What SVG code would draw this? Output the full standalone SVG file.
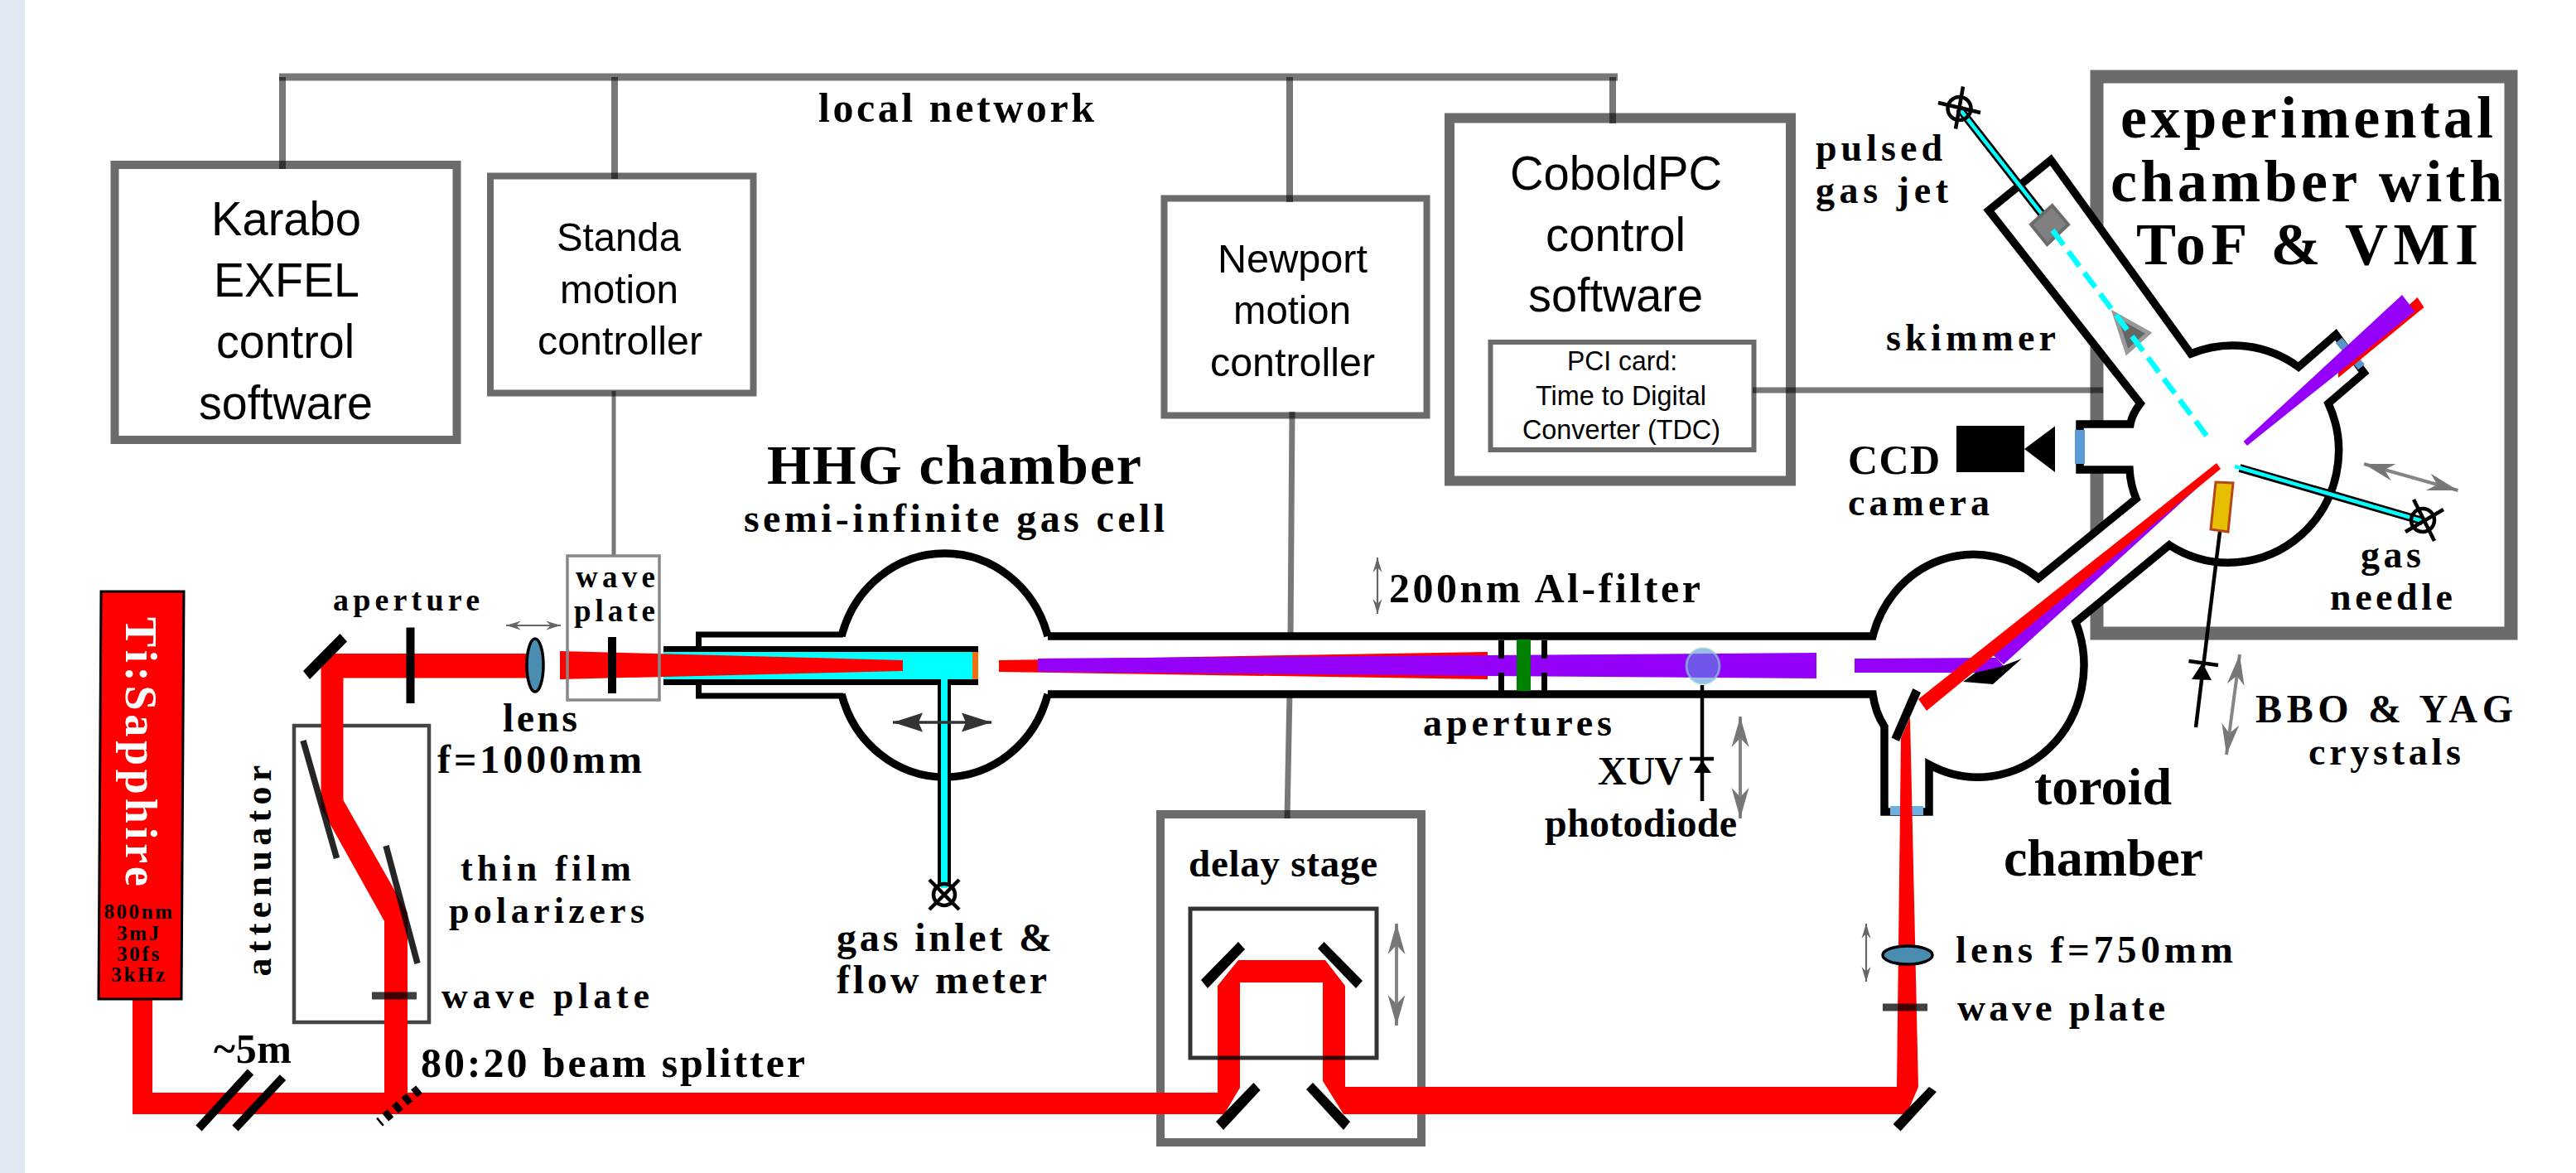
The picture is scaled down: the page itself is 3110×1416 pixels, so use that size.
<svg xmlns="http://www.w3.org/2000/svg" width="3110" height="1416" viewBox="0 0 3110 1416">
<style>
text{fill:#000;font-family:"Liberation Serif","Times New Roman",serif;font-weight:700}
.sans{font-family:"Liberation Sans",Arial,sans-serif;font-weight:400}
.f37{font-size:37px}.f44{font-size:44px}.f47{font-size:47px}.f46{font-size:46px}.f48{font-size:48px}.f50{font-size:50px}.f60{font-size:60px}.f64{font-size:64px}.f68{font-size:68px}.f72{font-size:72px}
.s58{font-size:58px}.s49{font-size:49px}.s33{font-size:33px}.tiny{font-size:25px;letter-spacing:2.6px;text-anchor:middle}
.box{fill:#fff;stroke:#6b6b6b}
.net{fill:none;stroke:#000;stroke-opacity:.53}
.wall{fill:none;stroke:#000;stroke-width:9.5;stroke-linejoin:miter}
.red{fill:#f00}.pur{fill:#9400f8}.blk{fill:#000}
.bar{stroke:#000;fill:none}
.gasb{stroke:#000;fill:none}.gasc{stroke:#0ff;fill:none}
.lens{fill:#4a8db0;stroke:#000;stroke-width:3.5}
.win{fill:#5b9bd5}
.big{fill:none;stroke:#858585;stroke-width:4;marker-start:url(#mb);marker-end:url(#mb)}
.small{fill:none;stroke:#666;stroke-width:2.2;marker-start:url(#ms);marker-end:url(#ms)}
</style>
<defs>
<marker id="mb" markerUnits="userSpaceOnUse" markerWidth="40" markerHeight="26" refX="37" refY="13" orient="auto-start-reverse"><path d="M0,2.5 L37,13 L0,23.500 L11,13 Z" fill="#777"/></marker>
<marker id="ms" markerUnits="userSpaceOnUse" markerWidth="20" markerHeight="14" refX="18" refY="7" orient="auto-start-reverse"><path d="M0,1.500 L18,7 L0,12.500 L6,7 Z" fill="#666"/></marker>
<marker id="md" markerUnits="userSpaceOnUse" markerWidth="38" markerHeight="26" refX="36" refY="13" orient="auto-start-reverse"><path d="M0,1.500 L36,13 L0,24.500 L5,13 Z" fill="#333"/></marker>
</defs>

<rect id="page-band" x="0" y="0" width="30" height="1416" fill="#e1e8f1"/>

<g id="karabo"><rect class="box" x="138.500" y="199" width="413" height="332" stroke-width="10"/>
<text class="sans s58" x="255" y="284" textLength="181" lengthAdjust="spacingAndGlyphs">Karabo</text>
<text class="sans s58" x="258" y="358" textLength="176" lengthAdjust="spacingAndGlyphs">EXFEL</text>
<text class="sans s58" x="261" y="432" textLength="167" lengthAdjust="spacingAndGlyphs">control</text>
<text class="sans s58" x="240" y="506" textLength="210" lengthAdjust="spacingAndGlyphs">software</text></g>

<g id="standa"><rect class="box" x="592" y="212.500" width="317.500" height="262" stroke-width="8"/>
<text class="sans s49" x="672" y="303" textLength="150" lengthAdjust="spacingAndGlyphs">Standa</text>
<text class="sans s49" x="676" y="366" textLength="143" lengthAdjust="spacingAndGlyphs">motion</text>
<text class="sans s49" x="649" y="428" textLength="199" lengthAdjust="spacingAndGlyphs">controller</text></g>

<g id="newport"><rect class="box" x="1405.500" y="239.500" width="317" height="262" stroke-width="8"/>
<text class="sans s49" x="1470" y="329" textLength="181" lengthAdjust="spacingAndGlyphs">Newport</text>
<text class="sans s49" x="1489" y="391" textLength="142" lengthAdjust="spacingAndGlyphs">motion</text>
<text class="sans s49" x="1461" y="454" textLength="199" lengthAdjust="spacingAndGlyphs">controller</text></g>

<g id="cobold"><rect class="box" x="1750" y="142.500" width="412" height="438" stroke-width="12"/>
<text class="sans s58" x="1823" y="229" textLength="256" lengthAdjust="spacingAndGlyphs">CoboldPC</text>
<text class="sans s58" x="1866" y="303" textLength="169" lengthAdjust="spacingAndGlyphs">control</text>
<text class="sans s58" x="1845" y="376" textLength="211" lengthAdjust="spacingAndGlyphs">software</text>
<rect class="box" x="1799.500" y="413" width="318" height="130" stroke-width="6"/>
<text class="sans s33" x="1892" y="447" textLength="133" lengthAdjust="spacingAndGlyphs">PCI card:</text>
<text class="sans s33" x="1854" y="489" textLength="206" lengthAdjust="spacingAndGlyphs">Time to Digital</text>
<text class="sans s33" x="1838" y="530" textLength="239" lengthAdjust="spacingAndGlyphs">Converter (TDC)</text></g>

<g id="experimental-box"><rect class="box" x="2531.500" y="92.500" width="500" height="672" stroke-width="16"/></g>

<g id="delay-stage"><rect class="box" x="1401" y="983" width="315" height="396" stroke-width="10"/>
<text class="f47" x="1435" y="1058" textLength="228">delay stage</text></g>

<g id="attenuator-box"><rect fill="none" stroke="#444" stroke-width="4.500" x="355" y="876" width="163" height="358"/></g>

<g id="connectors">
<path class="net" stroke-width="9" d="M337,93 H1953"/>
<path class="net" stroke-width="8" d="M341,93 V204 M742,93 V216 M1557,93 V244 M1947,93 V149"/>
<path class="net" stroke-width="5" d="M741,472 V670"/>
<path class="net" stroke-width="7" d="M1560,497 L1558,770 M1557,835 L1554,988"/>
<path class="net" stroke-width="7" d="M2116,471 H2539"/>
</g>

<g id="chambers">
<path fill="#fff" d="M1265,768 H2261 A126,133 0 0 1 2461,698 L2579,602 L2571,567 H2511 V512 H2572 L2584,487 L2401,254 L2476,193 L2645,427 A134,134 0 0 1 2775,443 L2820,404 L2854,450 L2811,487 A133,135 0 0 1 2619,658 L2506,751 A128,135 0 0 1 2329,923 V980 H2275 V877 L2261,838 H1265 Z"/>
<path class="wall" d="M1265,768 H2261 A126,133 0 0 1 2461,698 L2579,602 Q2572,585 2571,567 H2511 V512 H2572 Q2574,500 2584,487 L2401,254 L2476,193 L2645,427 A134,134 0 0 1 2775,443 L2820,404 L2854,450 L2811,487 A133,135 0 0 1 2619,658 L2506,751 A128,135 0 0 1 2329,923 V980 H2275 V877 Q2264,860 2261,838 H1265"/>
<path class="wall" stroke-width="10" d="M1016,768 A129,135.500 0 0 1 1265,768 M1016,838 A129,135.500 0 0 0 1265,838"/>
<path class="wall" style="stroke-width:7" d="M1018,766 H843.500 V780 M1018,840 H843.500 V827 M801,783.500 H1181 M801,823.500 H1181"/>
<rect class="win" x="2505" y="519" width="12" height="41"/>
<rect x="2282" y="973" width="40" height="11" fill="#6cb0e4"/>
<path d="M2823.600,411 L2851,443" stroke="#5a94c8" stroke-width="10" fill="none"/>
</g>

<g id="hhg-cell">
<rect x="801" y="787" width="374" height="33" fill="#0ff"/>
<rect x="1174" y="787" width="7" height="33" fill="#f07010"/>
</g>

<g id="gas-lines">
<path class="gasb" stroke-width="16" d="M1140,827 V1070"/><path class="gasc" stroke-width="8" d="M1140,820 V1072"/>
<circle class="bar" cx="1140" cy="1080" r="13" stroke-width="4.500"/>
<path class="bar" stroke-width="4.500" d="M1122,1062 L1158,1098 M1158,1062 L1122,1098"/>
<path class="gasb" stroke-width="10" d="M2365.500,131 L2468,262"/><path class="gasc" stroke-width="4.500" d="M2365.500,131 L2468,262"/>
<circle class="bar" cx="2365.500" cy="131" r="14" stroke-width="4.500"/>
<path class="bar" stroke-width="4.500" d="M2370,104.500 L2361,155.500 M2340,124 L2391,136"/>
<polygon points="2477.600,248 2497,271 2471.500,295 2452,271" fill="#808080" stroke="#6b6b6b" stroke-width="4"/>
<polygon points="2553,379 2594,402 2568,425" fill="#666" stroke="#999" stroke-width="5"/>
<path d="M2478,278 L2664,526" stroke="#0ff" stroke-width="6.500" stroke-dasharray="22 10" fill="none"/>
<path class="gasb" stroke-width="10" d="M2704,565 L2925,629"/><path class="gasc" stroke-width="4.500" d="M2698,563 L2925,629"/>
<circle class="bar" cx="2925" cy="628" r="14" stroke-width="4.500"/>
<path class="bar" stroke-width="4.500" d="M2914,603 L2939,653 M2904,642 L2950,615"/>
</g>

<g id="beams">
<path class="red" d="M160,1206 H184 V1319 H1470 V1190 L1495,1159 H1600 L1624,1190 V1312 H2290 L2295,891 L2306,866 L2316,1312 L2302,1345 H1622 L1597,1305 V1186 H1497 V1313 L1478,1345 H160 Z"/>
<path class="red" d="M387.500,789 H636 V818.500 H414.500 V966 L492,1102 V1325 H464 V1112 L387.500,975 Z"/>
<polygon class="red" points="676,786 1090,797 1090,810 676,820"/>
<polygon class="red" points="1206,797 1796,787 1796,820 1206,811"/>
<polygon class="pur" points="1253,795 1796,791 2193,788 2193,819 1796,816 1253,811"/>
<polygon class="pur" points="2239,795 2410,794 2420,805 2395,812 2239,812"/>
<polygon class="blk" points="2441,795 2406,826 2370,823 2385,812 2415,805"/>
<polygon class="pur" points="2679,565 2419,802 2405,790"/>
<polygon class="red" points="2676,559 2681,566 2326,858 2316,844"/>
<polygon class="red" points="2918.500,359 2926.500,371 2823,456 2823,445"/>
<polygon class="pur" points="2900,356 2915.500,376 2713,538 2708.500,533"/>
</g>

<g id="optics">
<polygon class="blk" points="410.500,765 419,774.600 374,820 366,810"/>
<polygon class="blk" points="1495,1137 1503,1146 1458,1193 1450,1183"/>
<polygon class="blk" points="1598.500,1137 1591,1145 1637,1193 1645,1184"/>
<polygon class="blk" points="1513.500,1307 1521.600,1316 1477,1364 1468,1354"/>
<polygon class="blk" points="1585,1307 1577,1315 1622,1364 1630,1354"/>
<polygon class="blk" points="2309.400,831 2319,836 2293,895 2283.600,890.500"/>
<polygon class="blk" points="2329,1312 2338,1318 2294.600,1365.500 2285.600,1357"/>
<rect x="1437" y="1097" width="225" height="180" fill="none" stroke="#000" stroke-opacity=".8" stroke-width="5"/>
<path class="bar" stroke-width="10" d="M495.500,757.500 V849 M739,769 V837"/>
<path class="bar" stroke-width="7.500" stroke-opacity=".85" d="M366,894 L406.500,1036 M466,1021 L504,1163"/>
<path class="bar" stroke-width="9" stroke-opacity=".75" d="M449,1202 H503 M2273,1216 H2327"/>
<path class="bar" stroke-width="10" d="M302.500,1294 L240,1362 M341.500,1300.700 L284,1362"/>
<path class="bar" stroke-width="12" stroke-dasharray="8 7" d="M506,1315 L458,1355"/>
<ellipse class="lens" cx="646" cy="803" rx="10" ry="32"/>
<ellipse class="lens" cx="2303" cy="1153" rx="30" ry="11"/>
<rect x="685" y="671" width="111" height="174" fill="none" stroke="#888" stroke-width="3.500"/>
<path class="bar" stroke-width="7" d="M1812.500,773 V795 M1812.500,812 V834 M1864.500,773 V795 M1864.500,812 V834"/>
<rect x="1831" y="772" width="17" height="62" fill="#008000"/>
<ellipse cx="2056" cy="804" rx="20" ry="21" fill="#5b8fe0" fill-opacity=".6" stroke="#8cc4d8" stroke-opacity=".7" stroke-width="3"/>
<path class="bar" stroke-width="4.500" d="M2055,827 V967 M2040,916 H2069"/>
<polygon class="blk" points="2055,918 2045,933 2066,933"/>
<path class="bar" stroke-width="4.500" d="M2680,642 L2651,878 M2642.500,798 L2678,803"/>
<polygon class="blk" points="2659,800 2646,820 2670,821"/>
<polygon points="2675,582 2696,583 2690,642 2669,639" fill="#e6c000" stroke="#b5451b" stroke-width="3"/>
<rect class="blk" x="2362" y="514" width="82" height="56"/>
<polygon class="blk" points="2444,542 2481,514.500 2481,570"/>
<path d="M1078,872 H1197" fill="none" stroke="#333" stroke-width="3.500" marker-start="url(#md)" marker-end="url(#md)"/>
<path class="big" d="M1686,1115 V1238"/>
<path class="big" d="M2101,865 V988"/>
<path class="big" d="M2704,790 L2688,911"/>
<path class="big" d="M2854,560 L2967.500,592"/>
<path class="small" d="M611,755 H677"/>
<path class="small" d="M1663,673 V741"/>
<path class="small" d="M2253,1115 V1185"/>
</g>

<g id="laser">
<polygon points="122,714 222,714 219,1206 119,1206" fill="#f00" stroke="#000" stroke-width="3"/>
<text class="f60" style="fill:#fff;font-size:54px" transform="translate(152,745) rotate(90)" textLength="325">Ti:Sapphire</text>
<text class="tiny" x="168" y="1109">800nm</text><text class="tiny" x="168" y="1135">3mJ</text><text class="tiny" x="168" y="1160">30fs</text><text class="tiny" x="168" y="1185">3kHz</text>
</g>

<g id="labels">
<text class="f50" x="988" y="147" textLength="333">local network</text>
<text class="f68" x="926" y="584" textLength="452">HHG chamber</text>
<text class="f48" x="898" y="642" textLength="508">semi-infinite gas cell</text>
<text class="f72" x="2560" y="166" textLength="450">experimental</text>
<text class="f72" x="2548" y="243" textLength="473">chamber with</text>
<text class="f72" x="2579" y="319" textLength="413">ToF &amp; VMI</text>
<text class="f46" x="2192" y="194" textLength="153">pulsed</text>
<text class="f46" x="2192" y="245" textLength="160">gas jet</text>
<text class="f46" x="2277" y="423" textLength="205">skimmer</text>
<text class="f50" x="2231" y="572" textLength="111">CCD</text>
<text class="f46" x="2231" y="622" textLength="171">camera</text>
<text class="f46" x="2850" y="685" textLength="73">gas</text>
<text class="f46" x="2813" y="736" textLength="148">needle</text>
<text class="f48" x="2723" y="872" textLength="311">BBO &amp; YAG</text>
<text class="f46" x="2787" y="923" textLength="184">crystals</text>
<text class="f64" x="2456" y="971" textLength="166">toroid</text>
<text class="f64" x="2419" y="1057" textLength="241">chamber</text>
<text class="f47" x="2361" y="1162" textLength="335">lens f=750mm</text>
<text class="f47" x="2363" y="1232" textLength="251">wave plate</text>
<text class="f50" x="1677" y="727" textLength="376">200nm Al-filter</text>
<text class="f46" x="1718" y="888" textLength="228">apertures</text>
<text class="f48" x="1929" y="947" textLength="103">XUV</text>
<text class="f48" x="1865" y="1010" textLength="232">photodiode</text>
<text class="f48" x="1010" y="1148" textLength="260">gas inlet &amp;</text>
<text class="f48" x="1010" y="1199" textLength="254">flow meter</text>
<text class="f44" style="font-size:38px" x="402" y="737" textLength="177">aperture</text>
<text class="f37" x="695" y="709" textLength="96">wave</text>
<text class="f37" x="693" y="750" textLength="98">plate</text>
<text class="f48" x="607" y="883" textLength="90">lens</text>
<text class="f48" x="528" y="933" textLength="247">f=1000mm</text>
<text class="f44" x="556" y="1063" textLength="206">thin film</text>
<text class="f44" x="542" y="1114" textLength="236">polarizers</text>
<text class="f44" x="533" y="1217" textLength="251">wave plate</text>
<text class="f44" transform="translate(327,1178.600) rotate(-90)" textLength="255">attenuator</text>
<text class="f50" x="258" y="1283" textLength="94">~5m</text>
<text class="f50" x="508" y="1300" textLength="464">80:20 beam splitter</text>
</g>
</svg>
